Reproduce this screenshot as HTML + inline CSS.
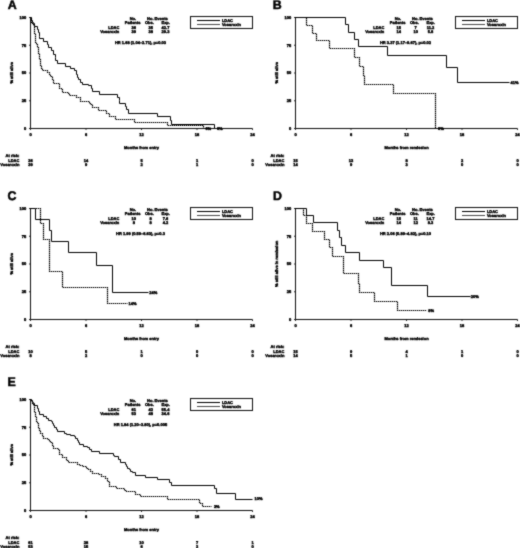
<!DOCTYPE html>
<html><head><meta charset="utf-8"><style>
html,body{margin:0;padding:0;background:#fff;overflow:hidden;}
svg{display:block;will-change:transform;text-rendering:geometricPrecision;font-family:"Liberation Sans",sans-serif;font-weight:bold;}
text{fill:#000;stroke:#000;stroke-width:0.4;}
.big{stroke-width:0.5;}
.ax{stroke:#111;stroke-width:1;fill:none;}
.cv{stroke:#000;stroke-width:1;fill:none;}
.cvb{display:none;}
.dash{stroke-dasharray:1.4 0.6;stroke-dashoffset:0.7;stroke-width:1.2;}
</style></head><body>
<svg width="520" height="548" viewBox="0 0 520 548">
<defs><filter id="bl" x="0" y="0" width="520" height="548" filterUnits="userSpaceOnUse"><feConvolveMatrix order="3" kernelMatrix="0.03 0.09 0.03 0.09 0.52 0.09 0.03 0.09 0.03" edgeMode="none" preserveAlpha="false"/></filter></defs>
<rect width="520" height="548" fill="#fff"/>
<g filter="url(#bl)">
<g transform="translate(0,0)">
<path class="ax" d="M30.5,17.1 V128.5 H252.5"/>
<path class="ax" d="M29.1,17.50 H30.5"/>
<text x="26.20" y="18.90" text-anchor="end" font-size="4.0">100</text>
<path class="ax" d="M29.1,45.25 H30.5"/>
<text x="26.20" y="46.65" text-anchor="end" font-size="4.0">75</text>
<path class="ax" d="M29.1,73.00 H30.5"/>
<text x="26.20" y="74.40" text-anchor="end" font-size="4.0">50</text>
<path class="ax" d="M29.1,100.75 H30.5"/>
<text x="26.20" y="102.15" text-anchor="end" font-size="4.0">25</text>
<path class="ax" d="M29.1,128.50 H30.5"/>
<text x="26.20" y="129.90" text-anchor="end" font-size="4.0">0</text>
<path class="ax" d="M30.50,128.5 V129.9"/>
<text x="30.50" y="135.80" text-anchor="middle" font-size="4.0">0</text>
<path class="ax" d="M86.00,128.5 V129.9"/>
<text x="86.00" y="135.80" text-anchor="middle" font-size="4.0">6</text>
<path class="ax" d="M141.50,128.5 V129.9"/>
<text x="141.50" y="135.80" text-anchor="middle" font-size="4.0">12</text>
<path class="ax" d="M197.00,128.5 V129.9"/>
<text x="197.00" y="135.80" text-anchor="middle" font-size="4.0">18</text>
<path class="ax" d="M252.50,128.5 V129.9"/>
<text x="252.50" y="135.80" text-anchor="middle" font-size="4.0">24</text>
<text x="141.50" y="148.80" text-anchor="middle" font-size="4.0">Months from entry</text>
<text transform="translate(12.8,72.8) rotate(-90)" text-anchor="middle" font-size="4.0">% still alive</text>
<text x="19.40" y="156.50" text-anchor="end" font-size="4.0">At risk:</text>
<text x="19.40" y="161.90" text-anchor="end" font-size="4.0">LDAC</text>
<text x="19.40" y="166.00" text-anchor="end" font-size="4.0">Vosaroxin</text>
<text x="30.50" y="161.90" text-anchor="middle" font-size="4.0">36</text>
<text x="30.50" y="166.00" text-anchor="middle" font-size="4.0">39</text>
<text x="86.00" y="161.90" text-anchor="middle" font-size="4.0">14</text>
<text x="86.00" y="166.00" text-anchor="middle" font-size="4.0">9</text>
<text x="141.50" y="161.90" text-anchor="middle" font-size="4.0">5</text>
<text x="141.50" y="166.00" text-anchor="middle" font-size="4.0">2</text>
<text x="197.00" y="161.90" text-anchor="middle" font-size="4.0">1</text>
<text x="197.00" y="166.00" text-anchor="middle" font-size="4.0">1</text>
<text x="252.50" y="161.90" text-anchor="middle" font-size="4.0">0</text>
<text x="252.50" y="166.00" text-anchor="middle" font-size="4.0">0</text>
<text x="132.90" y="19.60" text-anchor="middle" font-size="4.0">No.</text>
<text x="132.60" y="23.80" text-anchor="middle" font-size="4.0">Patients</text>
<text x="157.40" y="19.60" text-anchor="middle" font-size="4.0">No. Events</text>
<text x="149.40" y="23.80" text-anchor="middle" font-size="4.0">Obs.</text>
<text x="165.70" y="23.80" text-anchor="middle" font-size="4.0">Exp.</text>
<text x="119.30" y="28.90" text-anchor="end" font-size="4.0">LDAC</text>
<text x="119.30" y="32.90" text-anchor="end" font-size="4.0">Vosaroxin</text>
<text x="133.80" y="28.90" text-anchor="middle" font-size="4.0">36</text>
<text x="150.70" y="28.90" text-anchor="middle" font-size="4.0">35</text>
<text x="165.50" y="28.90" text-anchor="middle" font-size="4.0">42.7</text>
<text x="133.80" y="32.90" text-anchor="middle" font-size="4.0">39</text>
<text x="150.70" y="32.90" text-anchor="middle" font-size="4.0">38</text>
<text x="165.50" y="32.90" text-anchor="middle" font-size="4.0">29.3</text>
<text x="140.50" y="43.60" text-anchor="middle" font-size="4.0">HR 1.68 (1.04–2.71), p=0.03</text>
<rect class="ax" x="190.5" y="16.5" width="62" height="12" fill="none"/>
<path class="cv" d="M197,20.5 H220"/>
<path class="cvb" d="M197,24.5 H220"/>
<path class="cv dash" d="M197,24.5 H220"/>
<text x="221.90" y="21.60" text-anchor="start" font-size="4.0">LDAC</text>
<text x="221.90" y="25.70" text-anchor="start" font-size="4.0">Vosaroxin</text>
</g>
<text x="7.80" y="8.70" text-anchor="start" font-size="12.4" class="big">A</text>
<path class="cv" d="M 30.5 17.5 H 31.5 V 20.5 H 32.5 V 22.5 H 33.5 V 23.5 H 34.5 V 26.5 H 37.5 V 29.5 H 38.5 V 32.5 H 39.5 V 36.5 H 39.5 V 38.5 H 43.5 V 41.5 H 47.5 V 44.5 H 48.5 V 47.5 H 51.5 V 50.5 H 53.5 V 54.5 H 55.5 V 57.5 H 55.5 V 60.5 H 57.5 V 63.5 H 65.5 V 66.5 H 70.5 V 68.5 H 74.5 V 70.5 H 76.5 V 74.5 H 77.5 V 77.5 H 78.5 V 79.5 H 80.5 V 82.5 H 82.5 V 84.5 H 88.5 V 85.5 H 91.5 V 88.5 H 92.5 V 91.5 H 99.5 V 94.5 H 117.5 V 97.5 H 119.5 V 100.5 H 119.5 V 103.5 H 125.5 V 106.5 H 126.5 V 109.5 H 128.5 V 113.5 H 157.5 V 116.5 H 170.5 V 120.5 H 171.5 V 124.5 H 214.5 V 128.5"/>
<path class="cvb" d="M 30.5 17.5 H 31.5 V 20.5 H 31.5 V 22.5 H 32.5 V 23.5 H 33.5 V 25.5 H 34.5 V 29.5 H 34.5 V 33.5 H 35.5 V 37.5 H 35.5 V 40.5 H 35.5 V 42.5 H 36.5 V 44.5 H 37.5 V 47.5 H 38.5 V 50.5 H 38.5 V 53.5 H 39.5 V 56.5 H 39.5 V 59.5 H 40.5 V 62.5 H 40.5 V 65.5 H 41.5 V 68.5 H 42.5 V 70.5 H 47.5 V 72.5 H 49.5 V 74.5 H 50.5 V 76.5 H 52.5 V 79.5 H 53.5 V 83.5 H 59.5 V 88.5 H 61.5 V 89.5 H 62.5 V 92.5 H 68.5 V 93.5 H 69.5 V 95.5 H 76.5 V 97.5 H 80.5 V 101.5 H 89.5 V 103.5 H 90.5 V 104.5 H 92.5 V 107.5 H 98.5 V 110.5 H 106.5 V 113.5 H 109.5 V 116.5 H 115.5 V 119.5 H 134.5 V 122.5 H 167.5 V 125.5 H 203.5 V 128.5"/>
<path class="cv dash" d="M 30.5 17.5 H 31.5 V 20.5 H 31.5 V 22.5 H 32.5 V 23.5 H 33.5 V 25.5 H 34.5 V 29.5 H 34.5 V 33.5 H 35.5 V 37.5 H 35.5 V 40.5 H 35.5 V 42.5 H 36.5 V 44.5 H 37.5 V 47.5 H 38.5 V 50.5 H 38.5 V 53.5 H 39.5 V 56.5 H 39.5 V 59.5 H 40.5 V 62.5 H 40.5 V 65.5 H 41.5 V 68.5 H 42.5 V 70.5 H 47.5 V 72.5 H 49.5 V 74.5 H 50.5 V 76.5 H 52.5 V 79.5 H 53.5 V 83.5 H 59.5 V 88.5 H 61.5 V 89.5 H 62.5 V 92.5 H 68.5 V 93.5 H 69.5 V 95.5 H 76.5 V 97.5 H 80.5 V 101.5 H 89.5 V 103.5 H 90.5 V 104.5 H 92.5 V 107.5 H 98.5 V 110.5 H 106.5 V 113.5 H 109.5 V 116.5 H 115.5 V 119.5 H 134.5 V 122.5 H 167.5 V 125.5 H 203.5 V 128.5"/>
<text x="205.40" y="129.50" text-anchor="start" font-size="4.0">0%</text>
<text x="216.90" y="129.50" text-anchor="start" font-size="4.0">0%</text><g transform="translate(265,0)">
<path class="ax" d="M30.5,17.1 V128.5 H252.5"/>
<path class="ax" d="M29.1,17.50 H30.5"/>
<text x="26.20" y="18.90" text-anchor="end" font-size="4.0">100</text>
<path class="ax" d="M29.1,45.25 H30.5"/>
<text x="26.20" y="46.65" text-anchor="end" font-size="4.0">75</text>
<path class="ax" d="M29.1,73.00 H30.5"/>
<text x="26.20" y="74.40" text-anchor="end" font-size="4.0">50</text>
<path class="ax" d="M29.1,100.75 H30.5"/>
<text x="26.20" y="102.15" text-anchor="end" font-size="4.0">25</text>
<path class="ax" d="M29.1,128.50 H30.5"/>
<text x="26.20" y="129.90" text-anchor="end" font-size="4.0">0</text>
<path class="ax" d="M30.50,128.5 V129.9"/>
<text x="30.50" y="135.80" text-anchor="middle" font-size="4.0">0</text>
<path class="ax" d="M86.00,128.5 V129.9"/>
<text x="86.00" y="135.80" text-anchor="middle" font-size="4.0">6</text>
<path class="ax" d="M141.50,128.5 V129.9"/>
<text x="141.50" y="135.80" text-anchor="middle" font-size="4.0">12</text>
<path class="ax" d="M197.00,128.5 V129.9"/>
<text x="197.00" y="135.80" text-anchor="middle" font-size="4.0">18</text>
<path class="ax" d="M252.50,128.5 V129.9"/>
<text x="252.50" y="135.80" text-anchor="middle" font-size="4.0">24</text>
<text x="141.50" y="148.80" text-anchor="middle" font-size="4.0">Months from remission</text>
<text transform="translate(12.8,72.8) rotate(-90)" text-anchor="middle" font-size="4.0">% still alive</text>
<text x="19.40" y="156.50" text-anchor="end" font-size="4.0">At risk:</text>
<text x="19.40" y="161.90" text-anchor="end" font-size="4.0">LDAC</text>
<text x="19.40" y="166.00" text-anchor="end" font-size="4.0">Vosaroxin</text>
<text x="30.50" y="161.90" text-anchor="middle" font-size="4.0">15</text>
<text x="30.50" y="166.00" text-anchor="middle" font-size="4.0">14</text>
<text x="86.00" y="161.90" text-anchor="middle" font-size="4.0">13</text>
<text x="86.00" y="166.00" text-anchor="middle" font-size="4.0">9</text>
<text x="141.50" y="161.90" text-anchor="middle" font-size="4.0">8</text>
<text x="141.50" y="166.00" text-anchor="middle" font-size="4.0">3</text>
<text x="197.00" y="161.90" text-anchor="middle" font-size="4.0">2</text>
<text x="197.00" y="166.00" text-anchor="middle" font-size="4.0">0</text>
<text x="252.50" y="161.90" text-anchor="middle" font-size="4.0">0</text>
<text x="252.50" y="166.00" text-anchor="middle" font-size="4.0">0</text>
<text x="132.90" y="19.60" text-anchor="middle" font-size="4.0">No.</text>
<text x="132.60" y="23.80" text-anchor="middle" font-size="4.0">Patients</text>
<text x="157.40" y="19.60" text-anchor="middle" font-size="4.0">No. Events</text>
<text x="149.40" y="23.80" text-anchor="middle" font-size="4.0">Obs.</text>
<text x="165.70" y="23.80" text-anchor="middle" font-size="4.0">Exp.</text>
<text x="119.30" y="28.90" text-anchor="end" font-size="4.0">LDAC</text>
<text x="119.30" y="32.90" text-anchor="end" font-size="4.0">Vosaroxin</text>
<text x="133.80" y="28.90" text-anchor="middle" font-size="4.0">15</text>
<text x="150.70" y="28.90" text-anchor="middle" font-size="4.0">7</text>
<text x="165.50" y="28.90" text-anchor="middle" font-size="4.0">11.2</text>
<text x="133.80" y="32.90" text-anchor="middle" font-size="4.0">14</text>
<text x="150.70" y="32.90" text-anchor="middle" font-size="4.0">10</text>
<text x="165.50" y="32.90" text-anchor="middle" font-size="4.0">5.8</text>
<text x="140.50" y="43.60" text-anchor="middle" font-size="4.0">HR 3.37 (1.17–9.67), p=0.02</text>
<rect class="ax" x="190.5" y="16.5" width="62" height="12" fill="none"/>
<path class="cv" d="M197,20.5 H220"/>
<path class="cvb" d="M197,24.5 H220"/>
<path class="cv dash" d="M197,24.5 H220"/>
<text x="221.90" y="21.60" text-anchor="start" font-size="4.0">LDAC</text>
<text x="221.90" y="25.70" text-anchor="start" font-size="4.0">Vosaroxin</text>
</g>
<text x="272.80" y="8.70" text-anchor="start" font-size="12.4" class="big">B</text>
<path class="cv" d="M 295.5 17.5 H 345.5 V 24.5 H 348.5 V 32.5 H 354.5 V 39.5 H 358.5 V 46.5 H 387.5 V 55.5 H 446.5 V 67.5 H 457.5 V 82.5 H 509.5"/>
<path class="cvb" d="M 295.5 17.5 H 306.5 V 25.5 H 312.5 V 33.5 H 316.5 V 40.5 H 329.5 V 48.5 H 354.5 V 57.5 H 359.5 V 66.5 H 363.5 V 75.5 H 364.5 V 84.5 H 393.5 V 93.5 H 435.5 V 128.5"/>
<path class="cv dash" d="M 295.5 17.5 H 306.5 V 25.5 H 312.5 V 33.5 H 316.5 V 40.5 H 329.5 V 48.5 H 354.5 V 57.5 H 359.5 V 66.5 H 363.5 V 75.5 H 364.5 V 84.5 H 393.5 V 93.5 H 435.5 V 128.5"/>
<text x="510.50" y="83.70" text-anchor="start" font-size="4.0">41%</text>
<text x="438.00" y="129.50" text-anchor="start" font-size="4.0">0%</text><g transform="translate(0,191)">
<path class="ax" d="M30.5,17.1 V128.5 H252.5"/>
<path class="ax" d="M29.1,17.50 H30.5"/>
<text x="26.20" y="18.90" text-anchor="end" font-size="4.0">100</text>
<path class="ax" d="M29.1,45.25 H30.5"/>
<text x="26.20" y="46.65" text-anchor="end" font-size="4.0">75</text>
<path class="ax" d="M29.1,73.00 H30.5"/>
<text x="26.20" y="74.40" text-anchor="end" font-size="4.0">50</text>
<path class="ax" d="M29.1,100.75 H30.5"/>
<text x="26.20" y="102.15" text-anchor="end" font-size="4.0">25</text>
<path class="ax" d="M29.1,128.50 H30.5"/>
<text x="26.20" y="129.90" text-anchor="end" font-size="4.0">0</text>
<path class="ax" d="M30.50,128.5 V129.9"/>
<text x="30.50" y="135.80" text-anchor="middle" font-size="4.0">0</text>
<path class="ax" d="M86.00,128.5 V129.9"/>
<text x="86.00" y="135.80" text-anchor="middle" font-size="4.0">6</text>
<path class="ax" d="M141.50,128.5 V129.9"/>
<text x="141.50" y="135.80" text-anchor="middle" font-size="4.0">12</text>
<path class="ax" d="M197.00,128.5 V129.9"/>
<text x="197.00" y="135.80" text-anchor="middle" font-size="4.0">18</text>
<path class="ax" d="M252.50,128.5 V129.9"/>
<text x="252.50" y="135.80" text-anchor="middle" font-size="4.0">24</text>
<text x="141.50" y="148.80" text-anchor="middle" font-size="4.0">Months from entry</text>
<text transform="translate(12.8,72.8) rotate(-90)" text-anchor="middle" font-size="4.0">% still alive</text>
<text x="19.40" y="156.50" text-anchor="end" font-size="4.0">At risk:</text>
<text x="19.40" y="161.90" text-anchor="end" font-size="4.0">LDAC</text>
<text x="19.40" y="166.00" text-anchor="end" font-size="4.0">Vosaroxin</text>
<text x="30.50" y="161.90" text-anchor="middle" font-size="4.0">10</text>
<text x="30.50" y="166.00" text-anchor="middle" font-size="4.0">8</text>
<text x="86.00" y="161.90" text-anchor="middle" font-size="4.0">5</text>
<text x="86.00" y="166.00" text-anchor="middle" font-size="4.0">2</text>
<text x="141.50" y="161.90" text-anchor="middle" font-size="4.0">1</text>
<text x="141.50" y="166.00" text-anchor="middle" font-size="4.0">0</text>
<text x="197.00" y="161.90" text-anchor="middle" font-size="4.0">0</text>
<text x="197.00" y="166.00" text-anchor="middle" font-size="4.0">0</text>
<text x="252.50" y="161.90" text-anchor="middle" font-size="4.0">0</text>
<text x="252.50" y="166.00" text-anchor="middle" font-size="4.0">0</text>
<text x="132.90" y="19.60" text-anchor="middle" font-size="4.0">No.</text>
<text x="132.60" y="23.80" text-anchor="middle" font-size="4.0">Patients</text>
<text x="157.40" y="19.60" text-anchor="middle" font-size="4.0">No. Events</text>
<text x="149.40" y="23.80" text-anchor="middle" font-size="4.0">Obs.</text>
<text x="165.70" y="23.80" text-anchor="middle" font-size="4.0">Exp.</text>
<text x="119.30" y="28.90" text-anchor="end" font-size="4.0">LDAC</text>
<text x="119.30" y="32.90" text-anchor="end" font-size="4.0">Vosaroxin</text>
<text x="133.80" y="28.90" text-anchor="middle" font-size="4.0">10</text>
<text x="150.70" y="28.90" text-anchor="middle" font-size="4.0">8</text>
<text x="165.50" y="28.90" text-anchor="middle" font-size="4.0">7.6</text>
<text x="133.80" y="32.90" text-anchor="middle" font-size="4.0">8</text>
<text x="150.70" y="32.90" text-anchor="middle" font-size="4.0">8</text>
<text x="165.50" y="32.90" text-anchor="middle" font-size="4.0">4.2</text>
<text x="140.50" y="43.60" text-anchor="middle" font-size="4.0">HR 1.99 (0.59–6.63), p=0.3</text>
<rect class="ax" x="190.5" y="16.5" width="62" height="12" fill="none"/>
<path class="cv" d="M197,20.5 H220"/>
<path class="cvb" d="M197,24.5 H220"/>
<path class="cv dash" d="M197,24.5 H220"/>
<text x="221.90" y="21.60" text-anchor="start" font-size="4.0">LDAC</text>
<text x="221.90" y="25.70" text-anchor="start" font-size="4.0">Vosaroxin</text>
</g>
<text x="7.60" y="200.10" text-anchor="start" font-size="12.4" class="big">C</text>
<path class="cv" d="M 30.5 208.5 H 35.5 V 219.5 H 49.5 V 230.5 H 51.5 V 241.5 H 68.5 V 252.5 H 96.5 V 265.5 H 112.5 V 292.5 H 148.5"/>
<path class="cvb" d="M 30.5 208.5 H 40.5 V 223.5 H 43.5 V 239.5 H 49.5 V 271.5 H 62.5 V 287.5 H 107.5 V 303.5 H 127.5"/>
<path class="cv dash" d="M 30.5 208.5 H 40.5 V 223.5 H 43.5 V 239.5 H 49.5 V 271.5 H 62.5 V 287.5 H 107.5 V 303.5 H 127.5"/>
<text x="149.20" y="294.10" text-anchor="start" font-size="4.0">24%</text>
<text x="128.50" y="304.90" text-anchor="start" font-size="4.0">14%</text><g transform="translate(265,191)">
<path class="ax" d="M30.5,17.1 V128.5 H252.5"/>
<path class="ax" d="M29.1,17.50 H30.5"/>
<text x="26.20" y="18.90" text-anchor="end" font-size="4.0">100</text>
<path class="ax" d="M29.1,45.25 H30.5"/>
<text x="26.20" y="46.65" text-anchor="end" font-size="4.0">75</text>
<path class="ax" d="M29.1,73.00 H30.5"/>
<text x="26.20" y="74.40" text-anchor="end" font-size="4.0">50</text>
<path class="ax" d="M29.1,100.75 H30.5"/>
<text x="26.20" y="102.15" text-anchor="end" font-size="4.0">25</text>
<path class="ax" d="M29.1,128.50 H30.5"/>
<text x="26.20" y="129.90" text-anchor="end" font-size="4.0">0</text>
<path class="ax" d="M30.50,128.5 V129.9"/>
<text x="30.50" y="135.80" text-anchor="middle" font-size="4.0">0</text>
<path class="ax" d="M86.00,128.5 V129.9"/>
<text x="86.00" y="135.80" text-anchor="middle" font-size="4.0">6</text>
<path class="ax" d="M141.50,128.5 V129.9"/>
<text x="141.50" y="135.80" text-anchor="middle" font-size="4.0">12</text>
<path class="ax" d="M197.00,128.5 V129.9"/>
<text x="197.00" y="135.80" text-anchor="middle" font-size="4.0">18</text>
<path class="ax" d="M252.50,128.5 V129.9"/>
<text x="252.50" y="135.80" text-anchor="middle" font-size="4.0">24</text>
<text x="141.50" y="148.80" text-anchor="middle" font-size="4.0">Months from remission</text>
<text transform="translate(12.8,72.8) rotate(-90)" text-anchor="middle" font-size="4.0">% still alive in remission</text>
<text x="19.40" y="156.50" text-anchor="end" font-size="4.0">At risk:</text>
<text x="19.40" y="161.90" text-anchor="end" font-size="4.0">LDAC</text>
<text x="19.40" y="166.00" text-anchor="end" font-size="4.0">Vosaroxin</text>
<text x="30.50" y="161.90" text-anchor="middle" font-size="4.0">15</text>
<text x="30.50" y="166.00" text-anchor="middle" font-size="4.0">14</text>
<text x="86.00" y="161.90" text-anchor="middle" font-size="4.0">9</text>
<text x="86.00" y="166.00" text-anchor="middle" font-size="4.0">5</text>
<text x="141.50" y="161.90" text-anchor="middle" font-size="4.0">4</text>
<text x="141.50" y="166.00" text-anchor="middle" font-size="4.0">1</text>
<text x="197.00" y="161.90" text-anchor="middle" font-size="4.0">1</text>
<text x="197.00" y="166.00" text-anchor="middle" font-size="4.0">0</text>
<text x="252.50" y="161.90" text-anchor="middle" font-size="4.0">0</text>
<text x="252.50" y="166.00" text-anchor="middle" font-size="4.0">0</text>
<text x="132.90" y="19.60" text-anchor="middle" font-size="4.0">No.</text>
<text x="132.60" y="23.80" text-anchor="middle" font-size="4.0">Patients</text>
<text x="157.40" y="19.60" text-anchor="middle" font-size="4.0">No. Events</text>
<text x="149.40" y="23.80" text-anchor="middle" font-size="4.0">Obs.</text>
<text x="165.70" y="23.80" text-anchor="middle" font-size="4.0">Exp.</text>
<text x="119.30" y="28.90" text-anchor="end" font-size="4.0">LDAC</text>
<text x="119.30" y="32.90" text-anchor="end" font-size="4.0">Vosaroxin</text>
<text x="133.80" y="28.90" text-anchor="middle" font-size="4.0">15</text>
<text x="150.70" y="28.90" text-anchor="middle" font-size="4.0">11</text>
<text x="165.50" y="28.90" text-anchor="middle" font-size="4.0">14.7</text>
<text x="133.80" y="32.90" text-anchor="middle" font-size="4.0">14</text>
<text x="150.70" y="32.90" text-anchor="middle" font-size="4.0">12</text>
<text x="165.50" y="32.90" text-anchor="middle" font-size="4.0">8.3</text>
<text x="140.50" y="43.60" text-anchor="middle" font-size="4.0">HR 2.06 (0.89–4.82), p=0.10</text>
<rect class="ax" x="190.5" y="16.5" width="62" height="12" fill="none"/>
<path class="cv" d="M197,20.5 H220"/>
<path class="cvb" d="M197,24.5 H220"/>
<path class="cv dash" d="M197,24.5 H220"/>
<text x="221.90" y="21.60" text-anchor="start" font-size="4.0">LDAC</text>
<text x="221.90" y="25.70" text-anchor="start" font-size="4.0">Vosaroxin</text>
</g>
<text x="273.00" y="200.30" text-anchor="start" font-size="12.4" class="big">D</text>
<path class="cv" d="M 295.5 208.5 H 306.5 V 215.5 H 313.5 V 222.5 H 337.5 V 230.5 H 339.5 V 237.5 H 341.5 V 245.5 H 345.5 V 252.5 H 359.5 V 260.5 H 383.5 V 267.5 H 391.5 V 285.5 H 427.5 V 296.5 H 470.5"/>
<path class="cvb" d="M 295.5 208.5 H 303.5 V 215.5 H 306.5 V 223.5 H 312.5 V 231.5 H 324.5 V 239.5 H 329.5 V 247.5 H 332.5 V 256.5 H 343.5 V 273.5 H 358.5 V 283.5 H 359.5 V 292.5 H 374.5 V 301.5 H 397.5 V 310.5 H 426.5"/>
<path class="cv dash" d="M 295.5 208.5 H 303.5 V 215.5 H 306.5 V 223.5 H 312.5 V 231.5 H 324.5 V 239.5 H 329.5 V 247.5 H 332.5 V 256.5 H 343.5 V 273.5 H 358.5 V 283.5 H 359.5 V 292.5 H 374.5 V 301.5 H 397.5 V 310.5 H 426.5"/>
<text x="470.80" y="297.90" text-anchor="start" font-size="4.0">20%</text>
<text x="428.20" y="311.70" text-anchor="start" font-size="4.0">8%</text><g transform="translate(0,382)">
<path class="ax" d="M30.5,17.1 V128.5 H252.5"/>
<path class="ax" d="M29.1,17.50 H30.5"/>
<text x="26.20" y="18.90" text-anchor="end" font-size="4.0">100</text>
<path class="ax" d="M29.1,45.25 H30.5"/>
<text x="26.20" y="46.65" text-anchor="end" font-size="4.0">75</text>
<path class="ax" d="M29.1,73.00 H30.5"/>
<text x="26.20" y="74.40" text-anchor="end" font-size="4.0">50</text>
<path class="ax" d="M29.1,100.75 H30.5"/>
<text x="26.20" y="102.15" text-anchor="end" font-size="4.0">25</text>
<path class="ax" d="M29.1,128.50 H30.5"/>
<text x="26.20" y="129.90" text-anchor="end" font-size="4.0">0</text>
<path class="ax" d="M30.50,128.5 V129.9"/>
<text x="30.50" y="135.80" text-anchor="middle" font-size="4.0">0</text>
<path class="ax" d="M86.00,128.5 V129.9"/>
<text x="86.00" y="135.80" text-anchor="middle" font-size="4.0">6</text>
<path class="ax" d="M141.50,128.5 V129.9"/>
<text x="141.50" y="135.80" text-anchor="middle" font-size="4.0">12</text>
<path class="ax" d="M197.00,128.5 V129.9"/>
<text x="197.00" y="135.80" text-anchor="middle" font-size="4.0">18</text>
<path class="ax" d="M252.50,128.5 V129.9"/>
<text x="252.50" y="135.80" text-anchor="middle" font-size="4.0">24</text>
<text x="141.50" y="148.80" text-anchor="middle" font-size="4.0">Months from entry</text>
<text transform="translate(12.8,72.8) rotate(-90)" text-anchor="middle" font-size="4.0">% still alive</text>
<text x="19.40" y="156.50" text-anchor="end" font-size="4.0">At risk:</text>
<text x="19.40" y="161.90" text-anchor="end" font-size="4.0">LDAC</text>
<text x="19.40" y="166.00" text-anchor="end" font-size="4.0">Vosaroxin</text>
<text x="30.50" y="161.90" text-anchor="middle" font-size="4.0">61</text>
<text x="30.50" y="166.00" text-anchor="middle" font-size="4.0">53</text>
<text x="86.00" y="161.90" text-anchor="middle" font-size="4.0">28</text>
<text x="86.00" y="166.00" text-anchor="middle" font-size="4.0">15</text>
<text x="141.50" y="161.90" text-anchor="middle" font-size="4.0">10</text>
<text x="141.50" y="166.00" text-anchor="middle" font-size="4.0">6</text>
<text x="197.00" y="161.90" text-anchor="middle" font-size="4.0">7</text>
<text x="197.00" y="166.00" text-anchor="middle" font-size="4.0">2</text>
<text x="252.50" y="161.90" text-anchor="middle" font-size="4.0">1</text>
<text x="252.50" y="166.00" text-anchor="middle" font-size="4.0">0</text>
<text x="132.90" y="19.60" text-anchor="middle" font-size="4.0">No.</text>
<text x="132.60" y="23.80" text-anchor="middle" font-size="4.0">Patients</text>
<text x="157.40" y="19.60" text-anchor="middle" font-size="4.0">No. Events</text>
<text x="149.40" y="23.80" text-anchor="middle" font-size="4.0">Obs.</text>
<text x="165.70" y="23.80" text-anchor="middle" font-size="4.0">Exp.</text>
<text x="119.30" y="28.90" text-anchor="end" font-size="4.0">LDAC</text>
<text x="119.30" y="32.90" text-anchor="end" font-size="4.0">Vosaroxin</text>
<text x="133.80" y="28.90" text-anchor="middle" font-size="4.0">61</text>
<text x="150.70" y="28.90" text-anchor="middle" font-size="4.0">42</text>
<text x="165.50" y="28.90" text-anchor="middle" font-size="4.0">55.4</text>
<text x="133.80" y="32.90" text-anchor="middle" font-size="4.0">53</text>
<text x="150.70" y="32.90" text-anchor="middle" font-size="4.0">48</text>
<text x="165.50" y="32.90" text-anchor="middle" font-size="4.0">34.6</text>
<text x="140.50" y="43.60" text-anchor="middle" font-size="4.0">HR 1.84 (1.20–3.80), p=0.005</text>
<rect class="ax" x="190.5" y="16.5" width="62" height="12" fill="none"/>
<path class="cv" d="M197,20.5 H220"/>
<path class="cvb" d="M197,24.5 H220"/>
<path class="cv dash" d="M197,24.5 H220"/>
<text x="221.90" y="21.60" text-anchor="start" font-size="4.0">LDAC</text>
<text x="221.90" y="25.70" text-anchor="start" font-size="4.0">Vosaroxin</text>
</g>
<text x="7.60" y="385.70" text-anchor="start" font-size="12.4" class="big">E</text>
<path class="cv" d="M 30.5 399.5 H 31.5 V 400.5 H 32.5 V 402.5 H 33.5 V 403.5 H 34.5 V 405.5 H 37.5 V 408.5 H 38.5 V 411.5 H 39.5 V 414.5 H 43.5 V 416.5 H 46.5 V 418.5 H 48.5 V 420.5 H 51.5 V 421.5 H 52.5 V 423.5 H 53.5 V 425.5 H 54.5 V 427.5 H 56.5 V 429.5 H 57.5 V 431.5 H 64.5 V 433.5 H 66.5 V 434.5 H 70.5 V 435.5 H 74.5 V 436.5 H 75.5 V 438.5 H 77.5 V 440.5 H 78.5 V 442.5 H 79.5 V 444.5 H 83.5 V 446.5 H 87.5 V 447.5 H 89.5 V 449.5 H 91.5 V 451.5 H 99.5 V 453.5 H 113.5 V 455.5 H 114.5 V 456.5 H 118.5 V 459.5 H 120.5 V 462.5 H 125.5 V 464.5 H 126.5 V 466.5 H 127.5 V 468.5 H 129.5 V 469.5 H 130.5 V 471.5 H 132.5 V 472.5 H 135.5 V 475.5 H 145.5 V 477.5 H 157.5 V 479.5 H 169.5 V 482.5 H 171.5 V 485.5 H 214.5 V 488.5 H 216.5 V 493.5 H 235.5 V 499.5 H 252.5"/>
<path class="cvb" d="M 30.5 399.5 H 31.5 V 401.5 H 32.5 V 403.5 H 33.5 V 405.5 H 34.5 V 409.5 H 34.5 V 412.5 H 35.5 V 416.5 H 36.5 V 418.5 H 36.5 V 421.5 H 37.5 V 423.5 H 38.5 V 426.5 H 38.5 V 428.5 H 39.5 V 430.5 H 40.5 V 433.5 H 42.5 V 436.5 H 43.5 V 438.5 H 47.5 V 439.5 H 49.5 V 441.5 H 50.5 V 442.5 H 52.5 V 445.5 H 53.5 V 448.5 H 58.5 V 449.5 H 59.5 V 452.5 H 59.5 V 454.5 H 62.5 V 457.5 H 66.5 V 460.5 H 68.5 V 462.5 H 75.5 V 462.5 H 77.5 V 464.5 H 79.5 V 465.5 H 82.5 V 466.5 H 86.5 V 468.5 H 88.5 V 469.5 H 90.5 V 471.5 H 92.5 V 473.5 H 98.5 V 474.5 H 101.5 V 476.5 H 105.5 V 478.5 H 107.5 V 481.5 H 109.5 V 484.5 H 109.5 V 486.5 H 116.5 V 488.5 H 124.5 V 490.5 H 126.5 V 491.5 H 135.5 V 494.5 H 140.5 V 496.5 H 167.5 V 499.5 H 199.5 V 502.5 H 200.5 V 503.5 H 202.5 V 506.5 H 211.5"/>
<path class="cv dash" d="M 30.5 399.5 H 31.5 V 401.5 H 32.5 V 403.5 H 33.5 V 405.5 H 34.5 V 409.5 H 34.5 V 412.5 H 35.5 V 416.5 H 36.5 V 418.5 H 36.5 V 421.5 H 37.5 V 423.5 H 38.5 V 426.5 H 38.5 V 428.5 H 39.5 V 430.5 H 40.5 V 433.5 H 42.5 V 436.5 H 43.5 V 438.5 H 47.5 V 439.5 H 49.5 V 441.5 H 50.5 V 442.5 H 52.5 V 445.5 H 53.5 V 448.5 H 58.5 V 449.5 H 59.5 V 452.5 H 59.5 V 454.5 H 62.5 V 457.5 H 66.5 V 460.5 H 68.5 V 462.5 H 75.5 V 462.5 H 77.5 V 464.5 H 79.5 V 465.5 H 82.5 V 466.5 H 86.5 V 468.5 H 88.5 V 469.5 H 90.5 V 471.5 H 92.5 V 473.5 H 98.5 V 474.5 H 101.5 V 476.5 H 105.5 V 478.5 H 107.5 V 481.5 H 109.5 V 484.5 H 109.5 V 486.5 H 116.5 V 488.5 H 124.5 V 490.5 H 126.5 V 491.5 H 135.5 V 494.5 H 140.5 V 496.5 H 167.5 V 499.5 H 199.5 V 502.5 H 200.5 V 503.5 H 202.5 V 506.5 H 211.5"/>
<text x="254.60" y="500.20" text-anchor="start" font-size="4.0">10%</text>
<text x="213.90" y="508.20" text-anchor="start" font-size="4.0">3%</text>
</g>
</svg>
</body></html>
